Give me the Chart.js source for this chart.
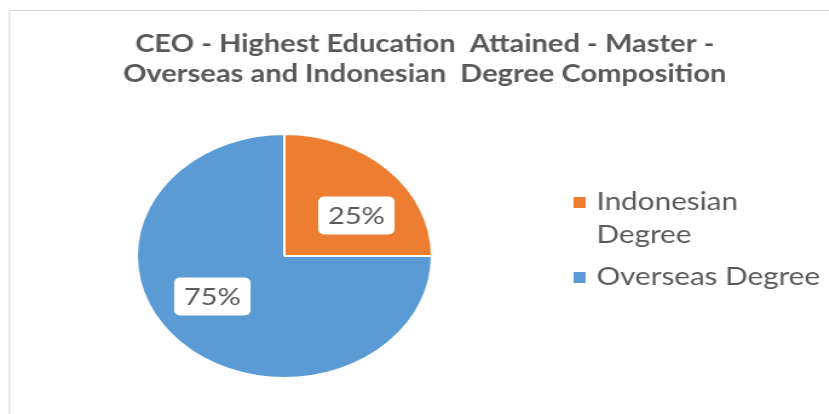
<!DOCTYPE html>
<html>
<head>
<meta charset="utf-8">
<script src="https://cdn.jsdelivr.net/npm/chart.js@4/dist/chart.umd.min.js"></script>
<style>
  html, body { margin: 0; padding: 0; background: #fff; overflow: hidden; }
  #wrap { width: 685px; height: 414px; transform: scaleX(1.21); transform-origin: 0 0; }
  #c { display: block; width: 685px; height: 414px; }
</style>
</head>
<body>
<div id="wrap"><canvas id="c" width="685" height="414"></canvas></div>
<script>
// Chart content
const titleLines = ['CEO - Highest Education  Attained - Master -', 'Overseas and Indonesian  Degree Composition'];
const categories = ['Indonesian Degree', 'Overseas Degree'];
const legendLines = [['Indonesian', 'Degree'], ['Overseas Degree']];
const shares = [25, 75];
const sliceColors = ['#ED7D31', '#5B9BD5'];

const TEXT = '#595959';
const FONT = 'Lato, "Liberation Sans", sans-serif';

// Frame, title, legend and value callouts drawn around the pie
const decor = {
  id: 'decor',
  beforeDraw(chart) {
    const ctx = chart.ctx;
    ctx.save();
    ctx.strokeStyle = '#d9d9d9';
    ctx.lineWidth = 1;
    ctx.beginPath();
    ctx.moveTo(7.8, chart.height);
    ctx.lineTo(7.8, 10.5);
    ctx.lineTo(chart.width, 10.5);
    ctx.stroke();

    ctx.fillStyle = TEXT;
    ctx.font = 'bold 24px ' + FONT;
    ctx.textAlign = 'center';
    ctx.textBaseline = 'middle';
    titleLines.forEach((t, i) => ctx.fillText(t, 351, 44 + i * 30));
    ctx.restore();
  },
  afterDraw(chart) {
    const ctx = chart.ctx;
    const meta = chart.getDatasetMeta(0);
    ctx.save();

    // legend
    ctx.font = '24.5px ' + FONT;
    ctx.textAlign = 'left';
    ctx.textBaseline = 'middle';
    let y = 202;
    legendLines.forEach((lines, i) => {
      ctx.fillStyle = sliceColors[i];
      ctx.fillRect(474, y - 5, 10, 11);
      ctx.fillStyle = TEXT;
      lines.forEach((ln, j) => ctx.fillText(ln, 493, y + j * 33));
      y += lines.length * 33 + 9;
    });

    // value callouts, placed along each slice's mid angle
    const total = shares.reduce((a, b) => a + b, 0);
    ctx.font = '24px ' + FONT;
    ctx.textAlign = 'center';
    meta.data.forEach((arc, i) => {
      const p = arc.getProps(['x', 'y', 'startAngle', 'endAngle', 'outerRadius'], true);
      const mid = (p.startAngle + p.endAngle) / 2;
      const cx = p.x + Math.cos(mid) * p.outerRadius * 0.69;
      const cy = p.y + Math.sin(mid) * p.outerRadius * 0.47;
      const label = Math.round(shares[i] / total * 100) + '%';
      const w = ctx.measureText(label).width + 16;
      const h = 38;
      ctx.fillStyle = '#ffffff';
      ctx.beginPath();
      ctx.roundRect(cx - w / 2, cy - h / 2, w, h, 5);
      ctx.fill();
      ctx.fillStyle = TEXT;
      ctx.fillText(label, cx, cy + 1);
    });
    ctx.restore();
  }
};

new Chart(document.getElementById('c'), {
  type: 'pie',
  data: {
    labels: categories,
    datasets: [{
      data: shares,
      backgroundColor: sliceColors,
      borderColor: '#ffffff',
      borderWidth: 2
    }]
  },
  options: {
    responsive: false,
    devicePixelRatio: 1,
    animation: false,
    layout: { padding: { top: 133, bottom: 35, left: 112, right: 327 } },
    plugins: {
      legend: { display: false },
      title: { display: false },
      tooltip: { enabled: false }
    }
  },
  plugins: [decor]
});
</script>
</body>
</html>
